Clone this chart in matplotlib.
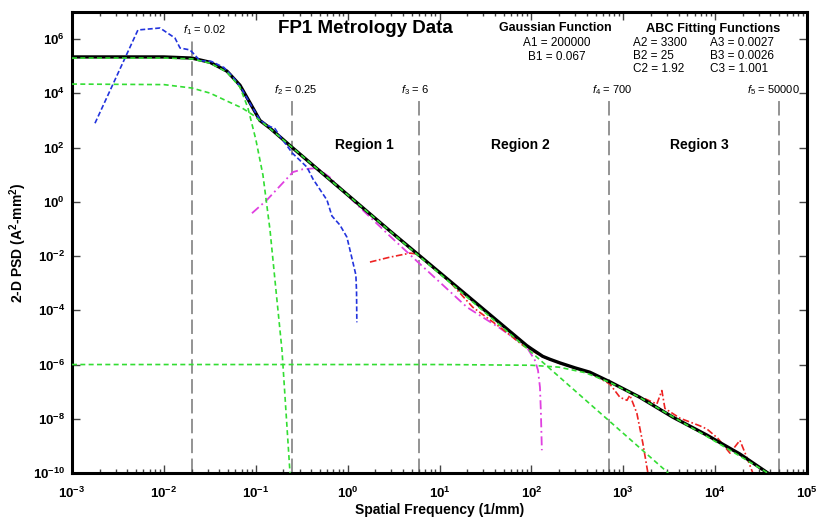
import numpy as np
import matplotlib
matplotlib.use("Agg")
import matplotlib.pyplot as plt
from matplotlib.ticker import FixedLocator, LogLocator, FuncFormatter, NullLocator

plt.rcParams['font.family'] = ['Liberation Sans', 'DejaVu Sans']
plt.rcParams['mathtext.fontset'] = 'custom'
plt.rcParams['mathtext.rm'] = 'Liberation Sans'
plt.rcParams['mathtext.it'] = 'Liberation Sans:italic'
plt.rcParams['mathtext.bf'] = 'Liberation Sans:bold'

# ---- data --------------------------------------------------------------
# total fit (black)
tot_f = [1e-3, 1e-2, 0.0202, 0.0318, 0.0486, 0.0673, 0.0865, 0.111, 0.143, 0.25,
         2.88, 20, 89, 100, 133, 160, 204, 300, 433, 715, 1514, 3470, 8130,
         18600, 37400]
tot_psd = [2.2e5, 2.2e5, 2.0e5, 1.4e5, 6.6e4, 2.0e4, 4.5e3, 1.0e3, 5.2e2, 100,
           0.085, 3.5e-4, 5e-6, 3.8e-6, 2.0e-6, 1.55e-6, 1.15e-6, 7.5e-7, 5.2e-7,
           2.3e-7, 6.2e-8, 1.14e-8, 2.5e-9, 5e-10, 1e-10]

# Gaussian component (green)
gauss_f = [1e-3, 1e-2, 0.0202, 0.0318, 0.0486, 0.0673, 0.0822, 0.1005, 0.1198,
           0.143, 0.166, 0.193, 0.213, 0.236]
gauss_psd = [2.0e5, 2.0e5, 1.87e5, 1.3e5, 6.1e4, 1.7e4, 2.9e3, 190, 9.7, 0.091,
             5.5e-4, 3.4e-6, 2e-8, 1e-10]

# ABC component 2 (green)
abc2_f = [1e-3, 1e-2, 0.0202, 0.0318, 0.0486, 0.0708, 0.093, 0.143, 0.25, 89, 3090]
abc2_psd = [2.2e4, 2.1e4, 1.57e4, 1.02e4, 5.2e3, 2.9e3, 1.6e3, 5.0e2, 100, 4e-6, 1e-10]

# ABC component 3 (green)
abc3_f = [1e-3, 10, 100, 200, 385, 715, 1500, 3500, 8000, 18600, 37400]
abc3_psd = [1e-6, 1e-6, 9.4e-7, 8e-7, 5e-7, 2.2e-7, 6.2e-8, 1.15e-8, 2.3e-9,
            4.2e-10, 1e-10]

# measured data set 1 (blue)
blue_f = [1.78e-3, 5.22e-3, 9.08e-3, 0.0132, 0.015, 0.0192, 0.0207, 0.0247, 0.033,
          0.045, 0.056, 0.07, 0.0865, 0.111, 0.135, 0.162, 0.185, 0.208, 0.25,
          0.361, 0.419, 0.596, 0.675, 0.75, 0.824, 0.982, 1.14, 1.23, 1.25, 1.26]
blue_psd = [7.9e2, 2.17e6, 2.57e6, 1.1e6, 4.7e5, 4e5, 3.1e5, 1.6e5, 1.5e5,
            9e4, 4.2e4, 1.5e4, 4.3e3, 1.05e3, 6.5e2, 5e2, 2.5e2, 147, 63,
            19, 7, 1.16, 0.3, 0.2, 0.14, 0.05, 6e-3, 2e-3, 5e-4, 3.6e-5]

# measured data set 2 (magenta)
mag_f = [0.091, 0.132, 0.254, 0.327, 0.464, 0.641, 1.14, 2.88, 5.67, 19.9, 45.4,
         89, 109, 118, 124, 127, 130]
mag_psd = [0.38, 1.16, 12.5, 16, 17.5, 8, 1.1, 0.055, 6.5e-3, 1.3e-4, 2.2e-5,
           4.4e-6, 1.45e-6, 6.2e-7, 1.45e-7, 1.6e-8, 6.9e-10]

# measured data set 3 (red)
redA_f = [1.75, 2.88, 4.76, 5.67, 13, 23, 45.4, 80.7, 133, 204, 300, 433, 715,
          919, 1096, 1180, 1406, 1634, 1853]
redA_psd = [6e-3, 9.1e-3, 0.0128, 0.012, 1.1e-3, 1.3e-4, 2.4e-5, 5.1e-6, 1.9e-6,
            1.1e-6, 7.3e-7, 5e-7, 1.9e-7, 6.2e-8, 4.8e-8, 7.4e-8, 1.6e-8,
            1.25e-9, 1e-10]

# measured data set 4 (red)
redB_f = [1718, 2320, 2630, 2840, 4140, 6810, 8130, 10700, 14500, 18600, 22100, 25700]
redB_psd = [5.5e-8, 3.5e-8, 1.1e-7, 2.4e-8, 1.05e-8, 5.5e-9, 4.2e-9, 1.9e-9,
            5.4e-10, 1.6e-9, 3.8e-10, 1e-10]

# band limits
f_vals = [0.02, 0.25, 6, 700, 50000]
f_labels = [r"$f_1$ = 0.02", r"$f_2$ = 0.25", r"$f_3$ = 6", r"$f_4$ = 700",
            r"$f_5$ = 50000"]
f_line_top = [1.3e6, 8e3, 8e3, 8e3, 8e3]
regions = ["Region 1", "Region 2", "Region 3"]
region_f = [1.54, 75, 6800]

GREEN = "#33dd33"

fig = plt.figure(figsize=(8.17, 5.17), dpi=100)
ax = fig.add_axes([0.0881, 0.0851, 0.8997, 0.8917])
ax.set_xscale("log")
ax.set_yscale("log")
ax.set_xlim(1e-3, 1e5)
ax.set_ylim(1e-10, 1e7)

# vertical band lines
for f, top in zip(f_vals, f_line_top):
    ax.vlines(f, 1e-10, top, colors="#8a8a8a", linewidth=1.3,
              linestyles=(0, (8, 3)), zorder=1)

ax.plot(mag_f, mag_psd, color="#e040e0", lw=1.3, dashes=(5, 2, 1, 2), zorder=2)
ax.plot(redA_f, redA_psd, color="#ee2222", lw=1.2, dashes=(4, 1.5, 1, 1.5), zorder=2)
ax.plot(redB_f, redB_psd, color="#ee2222", lw=1.2, dashes=(4, 1.5, 1, 1.5), zorder=2)
ax.plot(tot_f, tot_psd, color="black", lw=2.4, zorder=3)
ax.plot(blue_f, blue_psd, color="#2233dd", lw=1.2, dashes=(3, 1.5), zorder=4)
ax.plot(gauss_f, gauss_psd, color=GREEN, lw=1.2, dashes=(3, 2), zorder=5)
ax.plot(abc2_f, abc2_psd, color=GREEN, lw=1.2, dashes=(3, 2), zorder=5)
ax.plot(abc3_f, abc3_psd, color=GREEN, lw=1.2, dashes=(3, 2), zorder=5)

# axes styling
for s in ax.spines.values():
    s.set_linewidth(2.2)
ax.xaxis.set_major_locator(FixedLocator(10.0 ** np.arange(-3, 6)))
ax.xaxis.set_minor_locator(LogLocator(base=10, subs=np.arange(2, 10)))
ax.yaxis.set_major_locator(FixedLocator(10.0 ** np.arange(-10, 7, 2)))
ax.yaxis.set_minor_locator(NullLocator())
fmt = FuncFormatter(lambda v, _: r"$\mathbf{10^{%d}}$" % round(np.log10(v)))
ax.xaxis.set_major_formatter(fmt)
ax.yaxis.set_major_formatter(fmt)
ax.tick_params(which="both", direction="in", top=True, right=True,
               labelsize=9.5, width=1, color="#444444")
ax.tick_params(which="major", length=6)
ax.tick_params(which="minor", length=3)
ax.tick_params(axis="x", pad=9)
ax.tick_params(axis="y", pad=5)

ax.set_xlabel("Spatial Frequency (1/mm)", fontsize=10, fontweight="bold", labelpad=2)
ax.set_ylabel(r"2-D PSD (A$^\mathbf{2}$-mm$^\mathbf{2}$)", fontsize=10,
              fontweight="bold")
ax.yaxis.set_label_coords(-0.058, 0.5)

# band labels
for f, lab, top, dx in zip(f_vals, f_labels, f_line_top, [-6, -13, -13, -12, -23]):
    ax.annotate(lab, xy=(f, top), xytext=(dx, 4.5), textcoords="offset points",
                ha="left", va="center", fontsize=8)
for lab, f in zip(regions, region_f):
    ax.text(f, 123, lab, ha="center", va="center", fontsize=10, fontweight="bold")

# titles and fit parameters
ax.text(0.399, 0.965, "FP1 Metrology Data", transform=ax.transAxes,
        ha="center", va="center", fontsize=13.5, fontweight="bold")
ax.text(0.657, 0.966, "Gaussian Function", transform=ax.transAxes,
        ha="center", va="center", fontsize=9, fontweight="bold")
ax.text(0.66, 0.932, "A1 = 200000", transform=ax.transAxes,
        ha="center", va="center", fontsize=8.5)
ax.text(0.66, 0.902, "B1 = 0.067", transform=ax.transAxes,
        ha="center", va="center", fontsize=8.5)
ax.text(0.872, 0.963, "ABC Fitting Functions", transform=ax.transAxes,
        ha="center", va="center", fontsize=9.2, fontweight="bold")
for i, (a, b) in enumerate([("A2 = 3300", "A3 = 0.0027"), ("B2 = 25", "B3 = 0.0026"),
                            ("C2 = 1.92", "C3 = 1.001")]):
    y = 0.933 - i * 0.028
    ax.text(0.763, y, a, transform=ax.transAxes, ha="left", va="center", fontsize=8.5)
    ax.text(0.868, y, b, transform=ax.transAxes, ha="left", va="center", fontsize=8.5)

fig.savefig("out.png", dpi=100)
